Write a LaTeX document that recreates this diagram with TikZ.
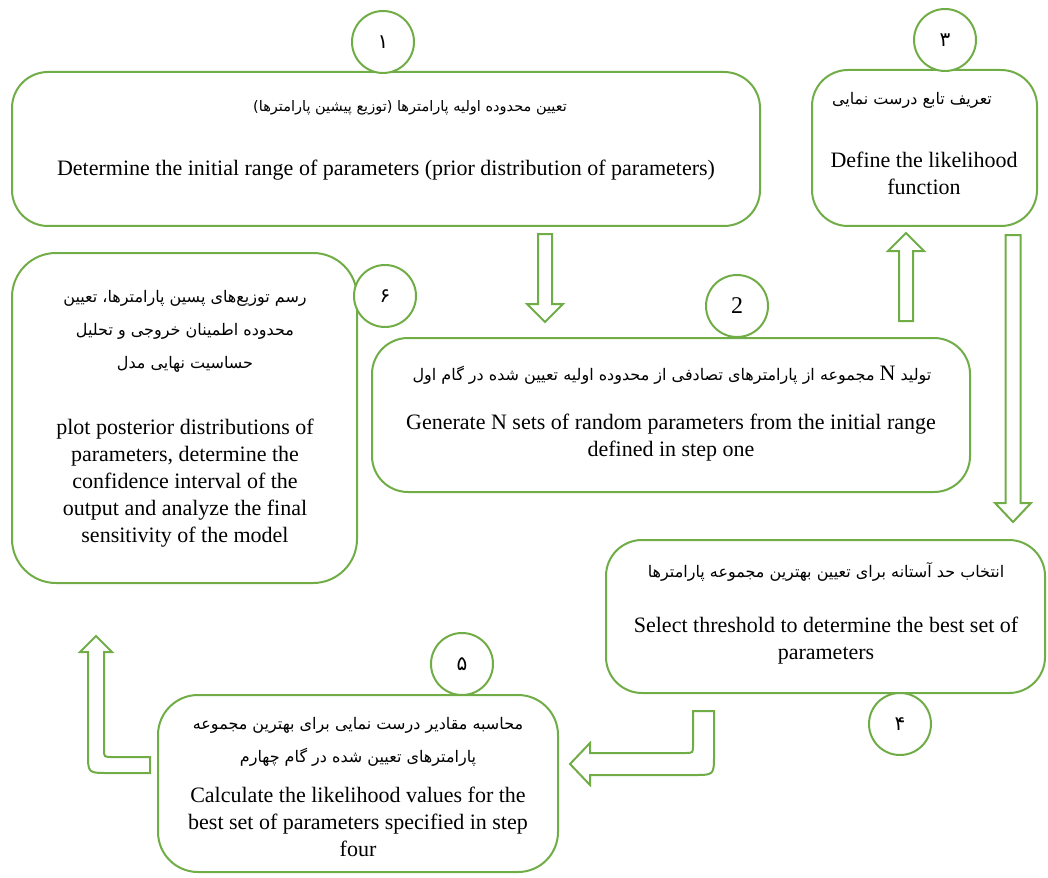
\documentclass[tikz,border=0pt]{standalone}
\usepackage{fontspec}
\setmainfont{Liberation Serif}
\newfontfamily\prsfont[Script=Arabic]{DejaVu Sans}
\TeXXeTstate=1
\usetikzlibrary{calc}
\usetikzlibrary{positioning}
\definecolor{grn}{RGB}{112,173,71}
\newcommand{\rtl}[1]{\beginR #1\endR}

\tikzset{
	stepbox/.style={rectangle,draw=grn,line width=2pt,rounded corners=36pt,inner sep=0pt},
	numcirc/.style={circle,draw=grn,line width=2pt,fill=white,inner sep=0pt,minimum size=62pt,font=\prsfont\fontsize{20}{20}\selectfont},
	entxt/.style={font=\fontsize{22}{27}\selectfont,align=center,inner sep=0pt},
	fatxt/.style={font=\prsfont\fontsize{16}{33}\selectfont,align=center,inner sep=0pt},
	blockarr/.style={draw=grn,line width=2pt,fill=white,line join=miter}
}

\begin{document}
\begin{tikzpicture}[x=1pt,y=-1pt]
	\useasboundingbox (0,0) rectangle (1048,877);
	% steps
	\node[stepbox,minimum width=748pt,minimum height=154pt] (b1) at (386,149) {};
	\node[stepbox,minimum width=225pt,minimum height=156pt] (b3) at (924.5,148) {};
	\node[stepbox,minimum width=345pt,minimum height=330pt,rounded corners=44pt] (b6) at (184.5,418) {};
	\node[stepbox,minimum width=598pt,minimum height=154pt] (b2) at (671,415) {};
	\node[stepbox,minimum width=439pt,minimum height=153pt] (b4) at (825.5,616.5) {};
	\node[stepbox,minimum width=400pt,minimum height=177pt,rounded corners=40pt] (b5) at (358,783.5) {};

	% step numbers
	\foreach \n/\px/\py/\lbl in {1/383/42/۱, 3/945/40/۳, 6/385/296/۶, 2/737/306/{\normalfont\fontsize{24}{24}\selectfont 2}, 4/900/724/۴, 5/462/664/۵}
		\node[numcirc] (c\n) at (\px,\py) {\lbl};

	% texts
	\node[fatxt,font=\prsfont\fontsize{14.5}{33}\selectfont] (t1fa) at (410,108) {\rtl{تعیین محدوده اولیه پارامترها (توزیع پیشین پارامترها)}};
	\node[entxt] (t1en) at (386,170) {Determine the initial range of parameters (prior distribution of parameters)};
	\node[fatxt] (t3fa) at (912,100) {\rtl{تعریف تابع درست نمایی}};
	\node[entxt] (t3en) at (924,173) {Define the likelihood\\function};
	\node[fatxt] (t6fa) at (185,331) {\rtl{رسم توزیع‌های پسین پارامترها، تعیین}\\\rtl{محدوده اطمینان خروجی و تحلیل}\\\rtl{حساسیت نهایی مدل}};
	\node[entxt] (t6en) at (185,483) {plot posterior distributions of\\parameters, determine the\\confidence interval of the\\output and analyze the final\\sensitivity of the model};
	\node[fatxt] (t2fa) at (672,375) {\rtl{تولید {\normalfont\fontsize{22}{22}\selectfont N} مجموعه از پارامترهای تصادفی از محدوده اولیه تعیین شده در گام اول}};
	\node[entxt] (t2en) at (671,438) {Generate N sets of random parameters from the initial range\\defined in step one};
	\node[fatxt] (t4fa) at (826,572) {\rtl{انتخاب حد آستانه برای تعیین بهترین مجموعه پارامترها}};
	\node[entxt] (t4en) at (826,641) {Select threshold to determine the best set of\\parameters};
	\node[fatxt] (t5fa) at (358,742) {\rtl{محاسبه مقادیر درست نمایی برای بهترین مجموعه}\\\rtl{پارامترهای تعیین شده در گام چهارم}};
	\node[entxt] (t5en) at (358,822) {Calculate the likelihood values for the\\best set of parameters specified in step\\four};

	% arrows
	\coordinate (a12s) at (545,234);
	\coordinate (a12t) at (545,322);
	\draw[blockarr] ($(a12s)+(-7,0)$) -- ($(a12s)+(7,0)$) -- ($(a12t)+(7,-18)$) -- ($(a12t)+(18,-18)$) -- (a12t) -- ($(a12t)+(-18,-18)$) -- ($(a12t)+(-7,-18)$) -- cycle;
	\coordinate (a23s) at (906,321);
	\coordinate (a23t) at (906,233);
	\draw[blockarr] ($(a23s)+(-7,0)$) -- ($(a23s)+(7,0)$) -- ($(a23t)+(7,18)$) -- ($(a23t)+(18,18)$) -- (a23t) -- ($(a23t)+(-18,18)$) -- ($(a23t)+(-7,18)$) -- cycle;
	\coordinate (a34s) at (1013,235);
	\coordinate (a34t) at (1013,522);
	\draw[blockarr] ($(a34s)+(-7.5,0)$) -- ($(a34s)+(7.5,0)$) -- ($(a34t)+(7.5,-19)$) -- ($(a34t)+(18,-19)$) -- (a34t) -- ($(a34t)+(-18,-19)$) -- ($(a34t)+(-7.5,-19)$) -- cycle;
	\coordinate (a45t) at (570,764);
	\draw[blockarr] (714,711) -- (714,755) .. controls (714,775) .. (694,775) -- (590,775) -- (590,785) -- (a45t) -- (590,743) -- (590,753) -- (685,753) .. controls (693,753) .. (693,745) -- (693,711) -- cycle;
	\coordinate (a56t) at (96,636);
	\draw[blockarr] (a56t) -- (112,652) -- (104,652) -- (104,749) .. controls (104,757) .. (112,757) -- (150,757) -- (150,773) -- (108,773) .. controls (88,773) .. (88,753) -- (88,652) -- (80,652) -- cycle;
\end{tikzpicture}
\end{document}
